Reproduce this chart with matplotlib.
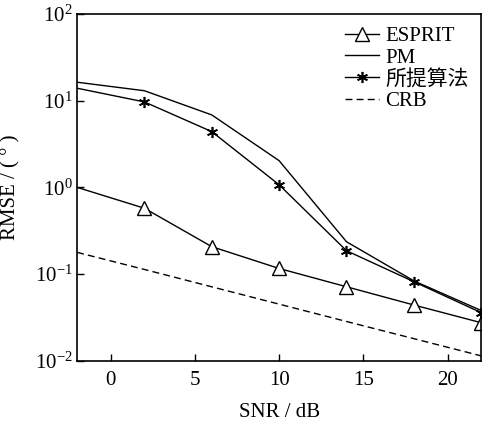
import numpy as np
import matplotlib
matplotlib.use("Agg")
import matplotlib.pyplot as plt

plt.rcParams['font.family'] = ['Liberation Serif', 'Noto Sans CJK SC']
plt.rcParams['mathtext.fontset'] = 'custom'
plt.rcParams['mathtext.rm'] = 'Liberation Serif'
plt.rcParams['mathtext.it'] = 'Liberation Serif'
plt.rcParams['mathtext.default'] = 'regular'

snr = [-2, 2, 6, 10, 14, 18, 22]
esprit = [1.0, 0.574, 0.207, 0.116, 0.0714, 0.044, 0.0275]
pm = [16.3, 13.0, 6.84, 2.03, 0.236, 0.0835, 0.038]
proposed = [13.9, 9.66, 4.39, 1.07, 0.186, 0.0817, 0.0359]
crb = [0.178, 0.113, 0.0713, 0.045, 0.0284, 0.018, 0.0114]

fig = plt.figure(figsize=(4.91, 4.21), dpi=100)
ax = fig.add_axes([0.157, 0.143, 0.823, 0.824])

ax.plot(snr, esprit, color='k', lw=1.0, marker='^', markevery=list(range(1, 7)),
        markersize=10, markerfacecolor='white', markeredgewidth=1.0, label='ESPRIT')
ax.plot(snr, pm, color='k', lw=1.0, label='PM')
ax.plot(snr, proposed, color='k', lw=1.0, marker=(6, 2, 0), markevery=list(range(1, 7)),
        markersize=8, markeredgewidth=1.2, label='所提算法')
ax.plot(snr, crb, color='k', lw=1.0, ls=(0, (5, 3)), label='CRB')

ax.set_yscale('log')
ax.set_xlim(-2, 22)
ax.set_ylim(1e-2, 1e2)
ax.set_xticks([0, 5, 10, 15, 20])
ax.set_yticks([1e-2, 1e-1, 1e0, 1e1, 1e2])
ax.yaxis.set_minor_locator(matplotlib.ticker.NullLocator())
ax.tick_params(direction='in', labelsize=15, length=5, width=1.0)
ax.tick_params(axis='x', pad=7)
ax.tick_params(axis='y', pad=3)
for s in ax.spines.values():
    s.set_linewidth(1.2)

ax.set_xlabel('SNR / dB', fontsize=15, labelpad=10)
ax.set_ylabel('RMSE / ( ° )', fontsize=15)
ax.yaxis.set_label_coords(-0.14, 0.5)

ax.legend(loc='upper right', frameon=False, fontsize=15, handlelength=1.65,
          handletextpad=0.3, labelspacing=0.1, borderaxespad=0.2)

fig.savefig('out.png', dpi=100)
